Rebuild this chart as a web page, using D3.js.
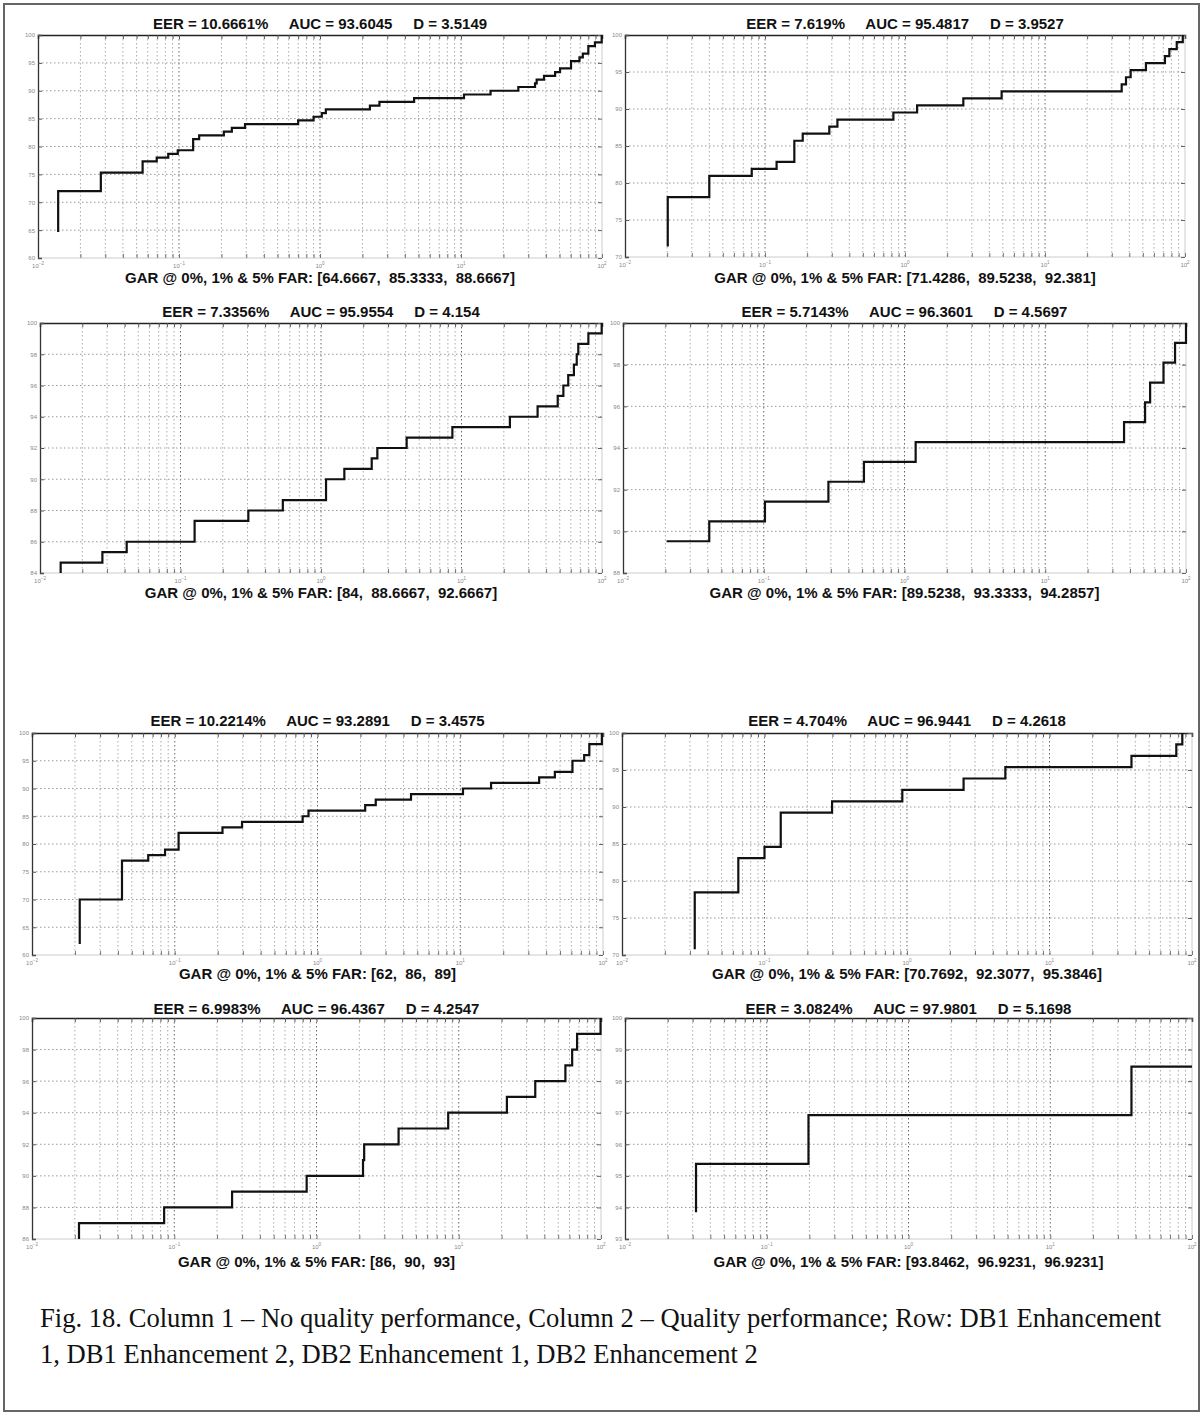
<!DOCTYPE html>
<html>
<head>
<meta charset="utf-8">
<script src="https://cdn.jsdelivr.net/npm/d3@7"></script>
<style>
  html, body { margin: 0; padding: 0; background: #fff; }
  svg { display: block; }
</style>
</head>
<body>
<svg id="fig" width="1204" height="1416"></svg>
<script>
// ROC step curves: [FAR (%), GAR (%)] at each step of the curve.
// Column 1 = no quality, column 2 = quality; rows: DB1 Enh.1, DB1 Enh.2, DB2 Enh.1, DB2 Enh.2
const db1Enh1NoQuality = [
  [0.0139, 64.6667], [0.0139, 72.0], [0.0279, 75.33], [0.0552, 77.33], [0.0695, 78.0],
  [0.0839, 78.67], [0.098, 79.33], [0.126, 81.33], [0.139, 82.0], [0.208, 82.67],
  [0.237, 83.33], [0.294, 84.0], [0.70, 84.67], [0.90, 85.3333], [1.03, 86.0],
  [1.10, 86.67], [2.26, 87.33], [2.64, 88.0], [4.65, 88.6667], [10.5, 89.33],
  [16.2, 90.0], [25.5, 90.67], [33.5, 91.33], [34.4, 92.0], [38.8, 92.67],
  [46.5, 93.33], [50.4, 94.0], [60.3, 95.33], [69.2, 96.0], [73.1, 96.67],
  [80.0, 98.0], [89.1, 98.67], [99.5, 100]
];
const db1Enh1Quality = [
  [0.0202, 71.4286], [0.0202, 78.10], [0.040, 80.95], [0.0804, 81.90], [0.121, 82.86],
  [0.162, 85.71], [0.186, 86.67], [0.288, 87.62], [0.329, 88.57], [0.826, 89.5238],
  [1.22, 90.48], [2.61, 91.43], [4.9, 92.381], [35.3, 93.33], [37.9, 94.29],
  [40.9, 95.24], [52.6, 96.19], [71.9, 97.14], [77.3, 98.10], [87.3, 99.05], [96.4, 100]
];
const db1Enh2NoQuality = [
  [0.01403, 84.0], [0.01403, 84.67], [0.0278, 85.33], [0.0414, 86.0], [0.126, 87.33],
  [0.304, 88.0], [0.535, 88.6667], [1.086, 90.0], [1.466, 90.67], [2.296, 91.33],
  [2.518, 92.0], [4.07, 92.6667], [8.61, 93.33], [22.1, 94.0], [34.8, 94.67],
  [48.4, 95.33], [53.1, 96.0], [57.5, 96.67], [63.1, 97.33], [66.1, 98.0],
  [67.8, 98.67], [80.0, 99.33], [99.5, 100]
];
const db1Enh2Quality = [
  [0.0204, 89.5238], [0.041, 90.48], [0.102, 91.43], [0.288, 92.38], [0.515, 93.3333],
  [1.2, 94.2857], [36.3, 95.24], [51.2, 96.19], [55.6, 97.14], [69.2, 98.10],
  [83.6, 99.05], [100, 100]
];
const db2Enh1NoQuality = [
  [0.0216, 62], [0.0216, 70], [0.0427, 77], [0.0652, 78], [0.0855, 79], [0.1064, 82],
  [0.216, 83], [0.296, 84], [0.787, 85], [0.865, 86], [2.158, 87], [2.559, 88],
  [4.519, 89], [10.45, 90], [16.44, 91], [35.7, 92], [46.0, 93], [61.1, 95],
  [73.8, 96], [80.2, 98], [98.2, 100]
];
const db2Enh1Quality = [
  [0.0324, 70.7692], [0.0324, 78.46], [0.0655, 83.08], [0.100, 84.62], [0.130, 89.23],
  [0.298, 90.77], [0.927, 92.3077], [2.495, 93.85], [4.9, 95.3846], [37.6, 96.92],
  [77.6, 98.46], [85.5, 100]
];
const db2Enh2NoQuality = [
  [0.0214, 86], [0.0214, 87], [0.0849, 88], [0.255, 89], [0.853, 90], [2.123, 91],
  [2.163, 92], [3.776, 93], [8.43, 94], [21.8, 95], [34.5, 96], [56.2, 97],
  [62.7, 98], [67.9, 99], [99.3, 100]
];
const db2Enh2Quality = [
  [0.0317, 93.8462], [0.0317, 95.38], [0.197, 96.9231], [37.4, 98.46], [100, 98.46]
];

// Summary statistics shown above and below each plot
const eerValues = ["10.6661", "7.619", "7.3356", "5.7143", "10.2214", "4.704", "6.9983", "3.0824"];
const aucValues = ["93.6045", "95.4817", "95.9554", "96.3601", "93.2891", "96.9441", "96.4367", "97.9801"];
const dValues   = ["3.5149", "3.9527", "4.154", "4.5697", "3.4575", "4.2618", "4.2547", "5.1698"];
const garAtFar  = [
  ["64.6667", "85.3333", "88.6667"], ["71.4286", "89.5238", "92.381"],
  ["84", "88.6667", "92.6667"],      ["89.5238", "93.3333", "94.2857"],
  ["62", "86", "89"],                ["70.7692", "92.3077", "95.3846"],
  ["86", "90", "93"],                ["93.8462", "96.9231", "96.9231"]
];

// Axis ticks
const yTickSets = [
  [60, 65, 70, 75, 80, 85, 90, 95, 100], [70, 75, 80, 85, 90, 95, 100],
  [84, 86, 88, 90, 92, 94, 96, 98, 100], [88, 90, 92, 94, 96, 98, 100],
  [60, 65, 70, 75, 80, 85, 90, 95, 100], [70, 75, 80, 85, 90, 95, 100],
  [86, 88, 90, 92, 94, 96, 98, 100],     [93, 94, 95, 96, 97, 98, 99, 100]
];
const xDecades = [0.01, 0.1, 1, 10, 100];
const xDecadeExponents = ["-2", "-1", "0", "1", "2"];

const captionLines = [
  "Fig. 18. Column 1 \u2013 No quality performance, Column 2 \u2013 Quality performance; Row: DB1 Enhancement",
  "1, DB1 Enhancement 2, DB2 Enhancement 1, DB2 Enhancement 2"
];

const curves = [db1Enh1NoQuality, db1Enh1Quality, db1Enh2NoQuality, db1Enh2Quality,
                db2Enh1NoQuality, db2Enh1Quality, db2Enh2NoQuality, db2Enh2Quality];

// Page layout of the eight axes boxes (pixels)
const boxes = [
  { x0: 38,  x1: 602,  y0: 35,   y1: 258,  titleY: 29,   garY: 283 },
  { x0: 625, x1: 1185, y0: 35,   y1: 257,  titleY: 29,   garY: 283 },
  { x0: 40,  x1: 602,  y0: 323,  y1: 573,  titleY: 317,  garY: 598 },
  { x0: 623, x1: 1186, y0: 323,  y1: 573,  titleY: 317,  garY: 598 },
  { x0: 32,  x1: 603,  y0: 733,  y1: 955,  titleY: 726,  garY: 979 },
  { x0: 622, x1: 1192, y0: 733,  y1: 955,  titleY: 726,  garY: 979 },
  { x0: 32,  x1: 601,  y0: 1018, y1: 1239, titleY: 1014, garY: 1267 },
  { x0: 625, x1: 1192, y0: 1018, y1: 1239, titleY: 1014, garY: 1267 }
];

const svg = d3.select("#fig");
const boldFont = "'Liberation Sans', Arial, Helvetica, sans-serif";

// Outer frame of the figure
svg.append("rect")
  .attr("x", 4).attr("y", 4).attr("width", 1195).attr("height", 1407)
  .attr("fill", "none").attr("stroke", "#666").attr("stroke-width", 2);

// Log-spaced grid positions for FAR
const gridX = [];
for (let e = -2; e <= 1; e++) {
  for (let k = 1; k <= 9; k++) gridX.push(+(k * Math.pow(10, e)).toPrecision(3));
}
gridX.push(100);

curves.forEach((pts, i) => {
  const b = boxes[i];
  const yTicks = yTickSets[i];
  const x = d3.scaleLog().domain([0.01, 100]).range([b.x0, b.x1]);
  const y = d3.scaleLinear().domain([yTicks[0], 100]).range([b.y1, b.y0]);
  const g = svg.append("g");

  // vertical grid
  g.append("g").selectAll("line")
    .data(gridX.filter(v => v > 0.01 && v < 100))
    .join("line")
    .attr("x1", d => x(d)).attr("x2", d => x(d))
    .attr("y1", b.y0).attr("y2", b.y1)
    .attr("stroke", d => xDecades.includes(d) ? "#666" : "#aaa")
    .attr("stroke-width", 1)
    .attr("stroke-dasharray", "1.5,2.5");

  // horizontal grid
  g.append("g").selectAll("line")
    .data(yTicks.filter(v => v > yTicks[0] && v < 100))
    .join("line")
    .attr("x1", b.x0).attr("x2", b.x1)
    .attr("y1", d => y(d)).attr("y2", d => y(d))
    .attr("stroke", "#999")
    .attr("stroke-width", 1)
    .attr("stroke-dasharray", "1.5,2.5");

  // box edges: bottom/right light, top/left dark
  g.append("line").attr("x1", b.x0).attr("x2", b.x1).attr("y1", b.y1).attr("y2", b.y1)
    .attr("stroke", "#ccc").attr("stroke-width", 1);
  g.append("line").attr("x1", b.x1).attr("x2", b.x1).attr("y1", b.y0).attr("y2", b.y1)
    .attr("stroke", "#ccc").attr("stroke-width", 1);

  // x ticks along top and bottom (minor + decade)
  const topAxis = d3.axisTop(x).tickValues(gridX).tickSize(-4).tickFormat("");
  g.append("g").attr("transform", `translate(0,${b.y0})`).call(topAxis)
    .call(s => s.select(".domain").attr("stroke", "#222").attr("stroke-width", 1.5))
    .call(s => s.selectAll(".tick line").attr("stroke", "#555"));
  const bottomAxis = d3.axisBottom(x).tickValues(gridX).tickSize(-4).tickFormat("");
  g.append("g").attr("transform", `translate(0,${b.y1})`).call(bottomAxis)
    .call(s => s.select(".domain").remove())
    .call(s => s.selectAll(".tick line").attr("stroke", "#777"));

  // decade labels under the x axis
  const xl = g.append("g").selectAll("text").data(xDecades).join("text")
    .attr("x", d => x(d))
    .attr("y", b.y1 + 10)
    .attr("text-anchor", "middle")
    .attr("font-family", "'Liberation Sans', Arial, sans-serif")
    .attr("font-size", 6)
    .attr("fill", "#888");
  xl.append("tspan").text("10");
  xl.append("tspan").attr("dy", -3).attr("font-size", 4.5)
    .text((d, j) => xDecadeExponents[j].replace("-", "\u2212"));

  // y axis (left) with labels, right-side ticks
  const leftAxis = d3.axisLeft(y).tickValues(yTicks).tickSize(-4).tickPadding(3)
    .tickFormat(d3.format("d"));
  g.append("g").attr("transform", `translate(${b.x0},0)`).call(leftAxis)
    .call(s => s.select(".domain").attr("stroke", "#333").attr("stroke-width", 1.3))
    .call(s => s.selectAll(".tick line").attr("stroke", "#555"))
    .call(s => s.selectAll(".tick text")
      .attr("font-family", "'Liberation Sans', Arial, sans-serif")
      .attr("font-size", 6).attr("fill", "#888"));
  const rightAxis = d3.axisRight(y).tickValues(yTicks).tickSize(-4).tickFormat("");
  g.append("g").attr("transform", `translate(${b.x1},0)`).call(rightAxis)
    .call(s => s.select(".domain").remove())
    .call(s => s.selectAll(".tick line").attr("stroke", "#666"));

  // ROC curve
  const line = d3.line()
    .x(d => x(d[0]))
    .y(d => y(d[1]))
    .curve(d3.curveStepAfter);
  g.append("path")
    .datum(pts)
    .attr("d", line)
    .attr("fill", "none")
    .attr("stroke", "#111")
    .attr("stroke-width", 2.2)
    .attr("stroke-linejoin", "miter");

  const cx = (b.x0 + b.x1) / 2;
  // title
  g.append("text")
    .attr("x", cx).attr("y", b.titleY)
    .attr("text-anchor", "middle")
    .attr("xml:space", "preserve")
    .style("white-space", "pre")
    .attr("font-family", boldFont)
    .attr("font-weight", "bold")
    .attr("font-size", 15)
    .attr("fill", "#111")
    .text(`EER = ${eerValues[i]}%     AUC = ${aucValues[i]}     D = ${dValues[i]}`);
  // GAR summary below
  g.append("text")
    .attr("x", cx).attr("y", b.garY)
    .attr("text-anchor", "middle")
    .attr("xml:space", "preserve")
    .style("white-space", "pre")
    .attr("font-family", boldFont)
    .attr("font-weight", "bold")
    .attr("font-size", 15)
    .attr("fill", "#111")
    .text(`GAR @ 0%, 1% & 5% FAR: [${garAtFar[i].join(",  ")}]`);
});

// Caption
svg.append("g").selectAll("text").data(captionLines).join("text")
  .attr("x", 40)
  .attr("y", (d, i) => 1327 + i * 36)
  .attr("font-family", "'Liberation Serif', 'Times New Roman', serif")
  .attr("font-size", 26.6)
  .attr("fill", "#111")
  .text(d => d);
</script>
</body>
</html>
